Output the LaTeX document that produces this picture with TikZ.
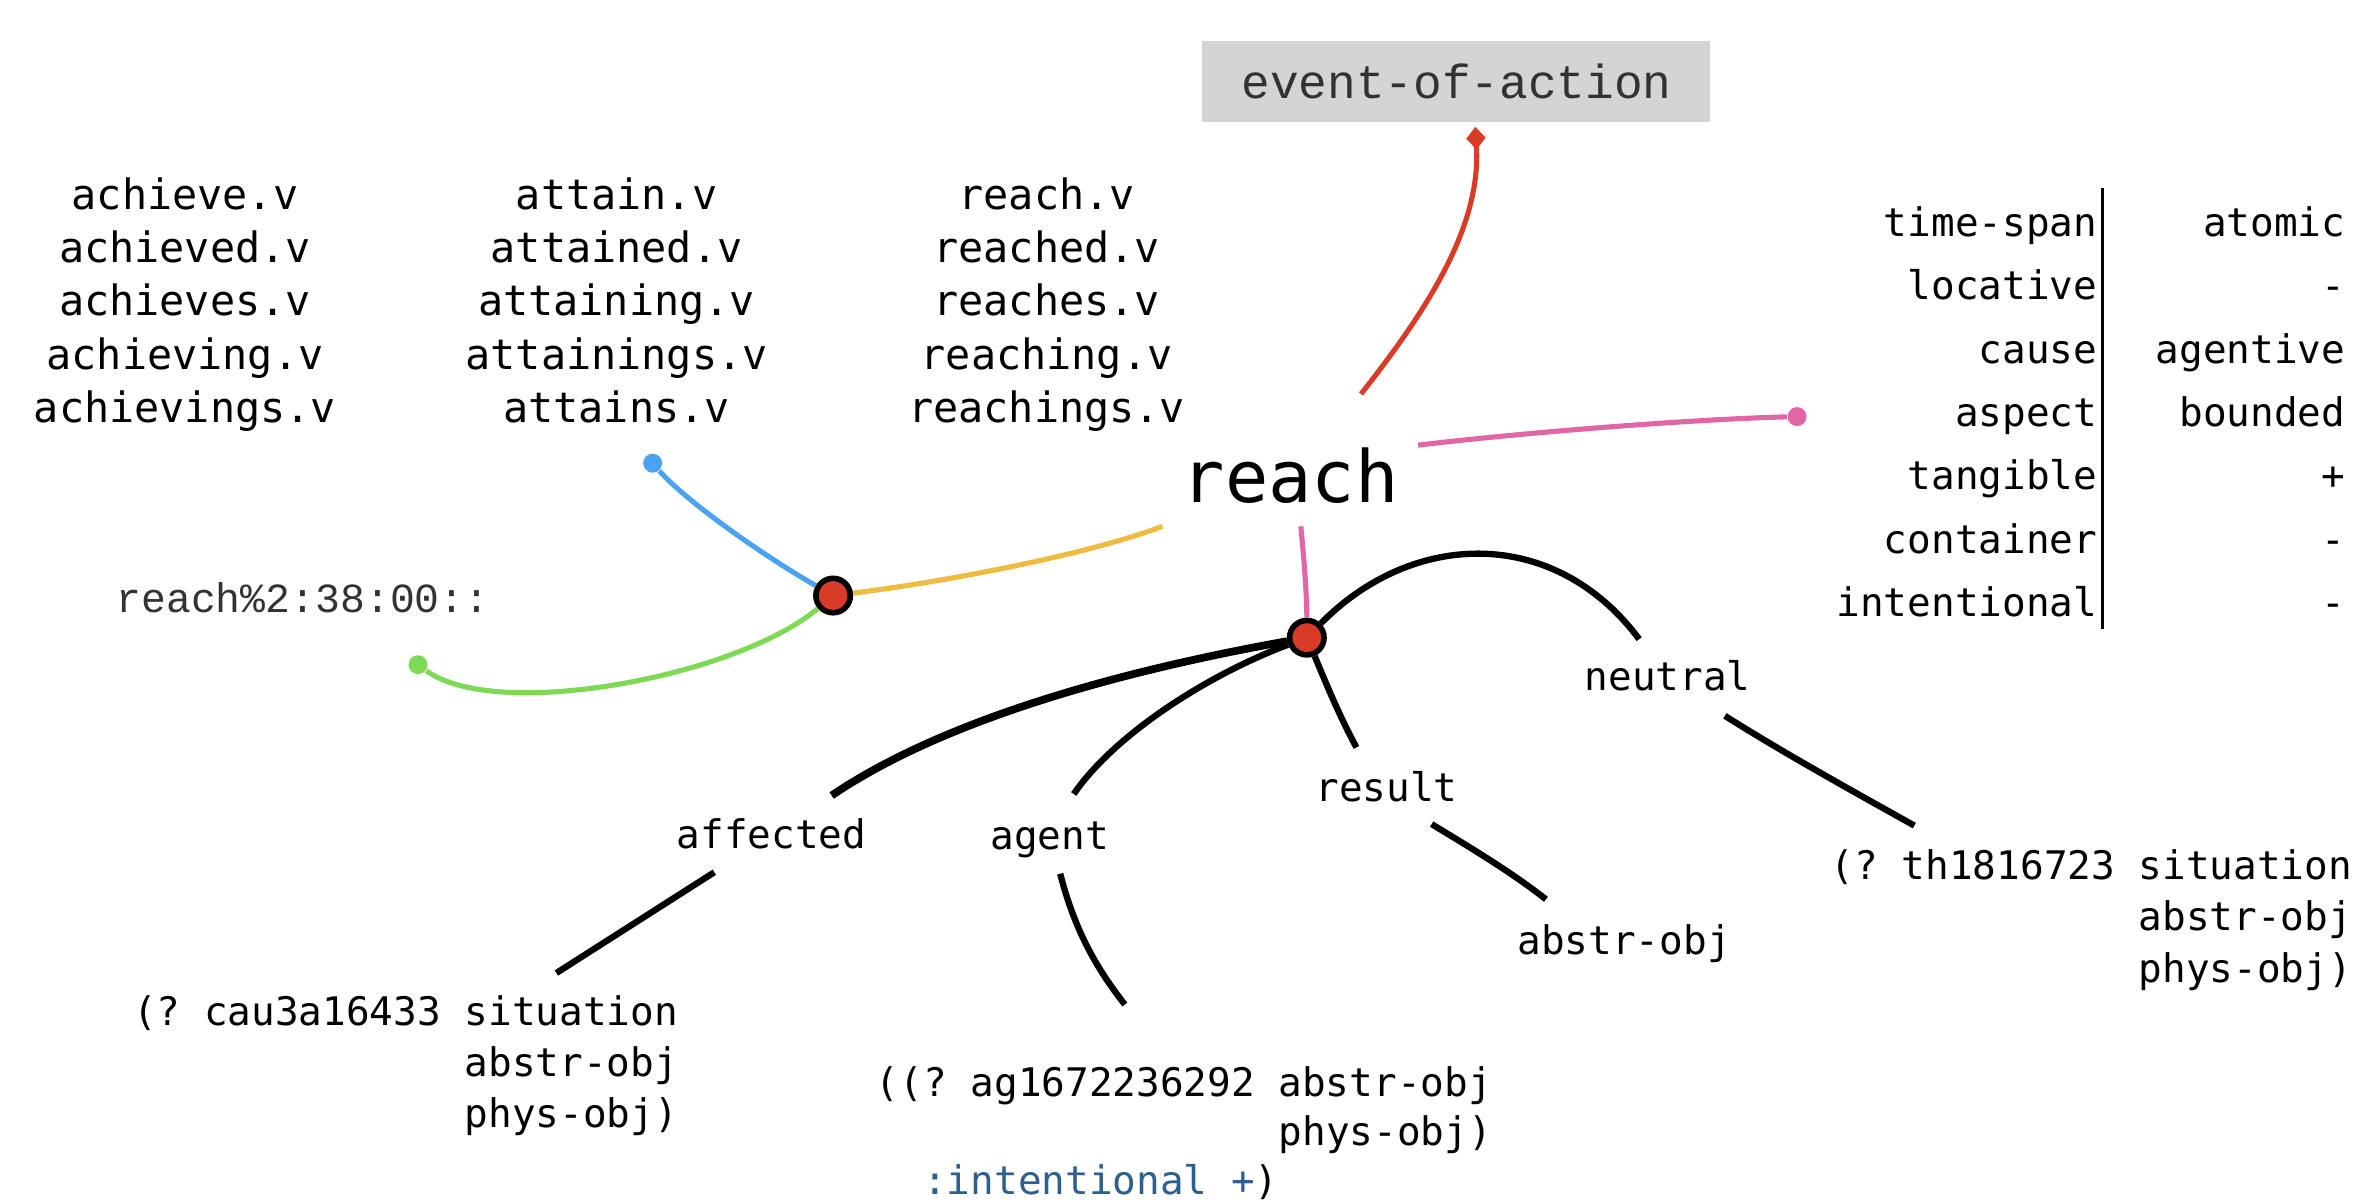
\documentclass[tikz,border=0pt]{standalone}
\usepackage{fontspec}
\setmonofont{DejaVu Sans Mono}
\newfontfamily\lightmono{Liberation Mono}
\usetikzlibrary{arrows.meta}
\definecolor{nodered}{RGB}{216,60,38}
\definecolor{lnyellow}{RGB}{237,188,64}
\definecolor{lnblue}{RGB}{74,163,240}
\definecolor{lngreen}{RGB}{126,217,87}
\definecolor{lnpink}{RGB}{224,102,166}
\definecolor{kwblue}{RGB}{45,95,143}
\definecolor{boxgray}{RGB}{212,212,214}
\definecolor{lighttext}{RGB}{50,50,50}
\begin{document}
\begin{tikzpicture}[x=0.01504cm,y=-0.01504cm,
  word/.style={font=\ttfamily\fontsize{11.9}{14}\selectfont, anchor=base, inner sep=0pt},
  small/.style={font=\ttfamily\fontsize{11.2}{13}\selectfont, inner sep=0pt},
  hub/.style={circle, fill=nodered, draw=black, line width=1.6pt, minimum size=9.8pt, inner sep=0pt},
  enddot/.style={circle, inner sep=0pt, minimum size=5.4pt},
  colline/.style={line width=1.45pt},
  roleline/.style={line width=1.8pt, draw=black},
  lighttxt/.style={text=lighttext, inner sep=0pt}
]
\useasboundingbox (0,0) rectangle (1568,800);

% word lists
\foreach \w [count=\i] in {achieve.v,achieved.v,achieves.v,achieving.v,achievings.v}
  \node[word] (ach\i) at (123,{139+35.5*(\i-1)}) {\w};
\foreach \w [count=\i] in {attain.v,attained.v,attaining.v,attainings.v,attains.v}
  \node[word] (att\i) at (410,{139+35.5*(\i-1)}) {\w};
\foreach \w [count=\i] in {reach.v,reached.v,reaches.v,reaching.v,reachings.v}
  \node[word] (rea\i) at (696,{139+35.5*(\i-1)}) {\w};

% feature table
\foreach \k/\v [count=\i] in {time-span/atomic,locative/-,cause/agentive,aspect/bounded,tangible/+,container/-,intentional/-}{
  \node[small, anchor=base east] (key\i) at (1395,{157+42.2*(\i-1)}) {\k};
  \node[small, anchor=base east] (val\i) at (1560,{157+42.2*(\i-1)}) {\v};
}
\draw[line width=0.8pt] (1398,125) -- (1398,418);

% central word and top frame
\node[font=\ttfamily\fontsize{20.5}{24}\selectfont, anchor=base, inner sep=0pt] (reach) at (858,334) {reach};
\node[fill=boxgray, minimum width=144.6pt, minimum height=23pt, inner sep=0pt,
      font=\lightmono\fontsize{13.6}{16}\selectfont, text=lighttext] (eoa) at (968.5,54) {event-of-action};

% sense key
\node[lighttxt, font=\lightmono\fontsize{11.8}{14}\selectfont, anchor=base west] (sense) at (77,407) {reach\%2:38:00::};

% hubs and dots
\node[hub] (n1) at (554,396) {};
\node[hub] (n2) at (869,424) {};
\node[enddot, fill=lnblue] (attDot) at (434,308) {};
\node[enddot, fill=lngreen] (senseDot) at (278,442) {};
\node[enddot, fill=lnpink] (featDot) at (1195,277) {};

% role labels
\node[small, anchor=base] (affected) at (513,564) {affected};
\node[small, anchor=base] (agent) at (698,565) {agent};
\node[small, anchor=base] (result) at (922,533) {result};
\node[small, anchor=base] (neutral) at (1109,459) {neutral};

% fillers
\node[small, anchor=base west] (cau1) at (88,682) {(? cau3a16433 situation};
\node[small, anchor=base west] (cau2) at (88,716) {\hphantom{(?Xcau3a16433X}abstr-obj};
\node[small, anchor=base west] (cau3) at (88,750) {\hphantom{(?Xcau3a16433X}phys-obj)};
\node[small, anchor=base west] (ag1) at (582,729) {((? ag1672236292 abstr-obj};
\node[small, anchor=base west] (ag2) at (582,762) {\hphantom{((?Xag1672236292X}phys-obj)};
\node[small, anchor=base west] (ag3) at (582,794) {\hphantom{XX}\textcolor{kwblue}{:intentional +})};
\node[small, anchor=base] (res) at (1080,635) {abstr-obj};
\node[small, anchor=base west] (th1) at (1217,585) {(? th1816723 situation};
\node[small, anchor=base west] (th2) at (1217,619) {\hphantom{(?Xth1816723X}abstr-obj};
\node[small, anchor=base west] (th3) at (1217,653) {\hphantom{(?Xth1816723X}phys-obj)};

% coloured connectors
\draw[colline, draw=lnblue] (attDot) .. controls (455,332) and (505,368) .. (n1);
\draw[colline, draw=lngreen] (n1) .. controls (490,450) and (330,480) .. (senseDot);
\draw[colline, draw=lnyellow] (n1) .. controls (620,388) and (720,370) .. ([shift={(-85,16)}]reach.base);
\draw[colline, draw=lnpink] ([shift={(85,-38)}]reach.base) .. controls (1010,288) and (1120,279) .. (featDot);
\draw[colline, draw=lnpink] ([shift={(7,16)}]reach.base) .. controls (868,380) and (869,400) .. (n2);
\draw[colline, draw=nodered, -{Diamond[length=6.5pt,width=5.5pt]}] ([shift={(47,-72)}]reach.base) .. controls (950,205) and (985,150) .. ([shift={(12.5,3)}]eoa.south);

% role connectors
\draw[roleline, line width=2.2pt] (n2) .. controls (780,440) and (640,470) .. ([shift={(40,-35)}]affected.base);
\draw[roleline] (n2) .. controls (800,450) and (740,490) .. ([shift={(16,-37)}]agent.base);
\draw[roleline] (n2) .. controls (880,450) and (890,475) .. ([shift={(-20,-36)}]result.base);
\draw[roleline] (n2) .. controls (940,352) and (1034,350) .. ([shift={(-19,-34)}]neutral.base);

% filler connectors
\draw[roleline] ([shift={(-38,16)}]affected.base) -- ([shift={(282,-35)}]cau1.base west);
\draw[roleline] ([shift={(7,16)}]agent.base) .. controls (715,620) and (730,645) .. ([shift={(166,-61)}]ag1.base west);
\draw[roleline] ([shift={(30,15)}]result.base) .. controls (980,565) and (1005,580) .. ([shift={(-52,-37)}]res.base);
\draw[roleline] ([shift={(38,17)}]neutral.base) .. controls (1185,500) and (1230,525) .. ([shift={(56,-36)}]th1.base west);
\end{tikzpicture}
\end{document}
